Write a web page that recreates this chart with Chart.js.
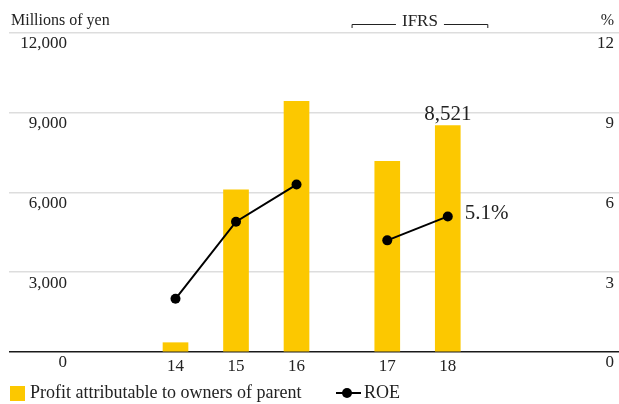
<!DOCTYPE html>
<html lang="en">
<head>
    <meta charset="UTF-8">
    <title>Profit and ROE</title>
    <script src="https://cdn.jsdelivr.net/npm/chart.js"></script>
    <style>
        html, body { margin: 0; padding: 0; background: #fff; }
        .caixa { width: 619px; height: 404px; }
    </style>
</head>
<body>
<div class="caixa">
    <canvas id="myChart" width="619" height="404"></canvas>
</div>
<script>
    // dados
    const years = ['14', '15', '16', '17', '18'];
    const isIfrs = [false, false, false, true, true];
    const profit = [350, 6100, 9430, 7170, 8521];   // millions of yen
    const roe = [2.0, 4.9, 6.3, 4.2, 5.1];          // %
    const leftTicks = [0, 3000, 6000, 9000, 12000];
    const rightTicks = [0, 3, 6, 9, 12];

    const fonte = '"Liberation Serif", "DejaVu Serif", serif';
    const corTexto = '#222';
    const amarelo = '#FCC800';

    // IFRS years sit half a slot further right
    const pos = years.map((y, i) => i + (isIfrs[i] ? 0.5 : 0));

    const extras = {
        id: 'extras',
        afterDraw(chart) {
            const ctx = chart.ctx;
            const y = chart.scales.y, y1 = chart.scales.y1, x = chart.scales.x;
            ctx.save();
            ctx.fillStyle = corTexto;
            ctx.textBaseline = 'middle';

            // eixo esquerdo
            ctx.font = '17px ' + fonte;
            ctx.textAlign = 'right';
            leftTicks.forEach(v => ctx.fillText(v.toLocaleString('en-US'), 67, y.getPixelForValue(v) + 11));
            rightTicks.forEach(v => ctx.fillText(String(v), 614, y1.getPixelForValue(v) + 11));

            // unidades
            ctx.font = '16px ' + fonte;
            ctx.fillText('%', 614, 21);
            ctx.textAlign = 'left';
            ctx.fillText('Millions of yen', 11, 21);

            // IFRS bracket
            const bl = x.getPixelForValue(pos[3] - 0.59);
            const br = x.getPixelForValue(pos[4] + 0.67);
            const mid = (bl + br) / 2;
            ctx.font = '17px ' + fonte;
            ctx.textAlign = 'center';
            ctx.fillText('IFRS', mid, 22);
            ctx.strokeStyle = corTexto;
            ctx.lineWidth = 1;
            ctx.beginPath();
            ctx.moveTo(bl + 0.5, 28); ctx.lineTo(bl + 0.5, 24.5); ctx.lineTo(mid - 24, 24.5);
            ctx.moveTo(mid + 24, 24.5); ctx.lineTo(br - 0.5, 24.5); ctx.lineTo(br - 0.5, 28);
            ctx.stroke();

            // rótulos do último ano
            const last = years.length - 1;
            const bar = chart.getDatasetMeta(0).data[last];
            const pt = chart.getDatasetMeta(1).data[last];
            ctx.font = '21px ' + fonte;
            ctx.textAlign = 'center';
            ctx.fillText(profit[last].toLocaleString('en-US'), bar.x, bar.y - 11);
            ctx.textAlign = 'left';
            ctx.fillText(roe[last].toFixed(1) + '%', pt.x + 17, pt.y - 3);

            // legenda
            ctx.fillStyle = amarelo;
            ctx.fillRect(10, 386, 15, 15);
            ctx.fillStyle = corTexto;
            ctx.font = '18px ' + fonte;
            ctx.fillText('Profit attributable to owners of parent', 30, 393);
            ctx.strokeStyle = '#000';
            ctx.lineWidth = 2;
            ctx.beginPath();
            ctx.moveTo(336, 393); ctx.lineTo(361, 393);
            ctx.stroke();
            ctx.fillStyle = '#000';
            ctx.beginPath();
            ctx.arc(347, 393, 5, 0, Math.PI * 2);
            ctx.fill();
            ctx.fillStyle = corTexto;
            ctx.fillText('ROE', 364, 393);
            ctx.restore();
        }
    };

    const dados = {
        datasets: [{
            type: 'bar',
            label: 'Profit attributable to owners of parent',
            data: profit.map((v, i) => ({ x: pos[i], y: v })),
            backgroundColor: amarelo,
            barThickness: 25,
            yAxisID: 'y',
            order: 1
        }, {
            type: 'line',
            label: 'ROE',
            data: roe.map((v, i) => ({ x: pos[i], y: v })),
            borderColor: '#000',
            borderWidth: 2,
            pointRadius: 5,
            pointBackgroundColor: '#000',
            pointBorderWidth: 0,
            yAxisID: 'y1',
            order: 0,
            segment: {
                // no line across the JGAAP -> IFRS change
                borderColor: c => isIfrs[c.p0DataIndex] !== isIfrs[c.p1DataIndex] ? 'rgba(0,0,0,0)' : '#000'
            }
        }]
    };

    const config = {
        data: dados,
        options: {
            responsive: false,
            animation: false,
            layout: { autoPadding: false, padding: { left: 9, right: 0, top: 33, bottom: 0 } },
            plugins: { legend: { display: false }, tooltip: { enabled: false } },
            scales: {
                x: {
                    type: 'linear',
                    min: -2.752,
                    max: 7.33,
                    offset: false,
                    grid: { display: false, offset: false },
                    border: { display: false },
                    afterBuildTicks: s => { s.ticks = pos.map(v => ({ value: v })); },
                    afterFit: s => { s.height = 52; },
                    ticks: {
                        padding: -4,
                        color: corTexto,
                        font: { family: fonte, size: 17 },
                        callback: v => years[pos.indexOf(v)]
                    }
                },
                y: {
                    position: 'left',
                    min: 0,
                    max: 12000,
                    afterBuildTicks: s => { s.ticks = leftTicks.map(v => ({ value: v })); },
                    afterFit: s => { s.width = 0; },
                    border: { display: false },
                    ticks: { display: false },
                    grid: {
                        drawTicks: false,
                        color: c => c.tick.value === 0 ? '#1a1a1a' : '#dddddd',
                        lineWidth: 1.6
                    }
                },
                y1: {
                    position: 'right',
                    display: false,
                    min: 0,
                    max: 12
                }
            }
        },
        plugins: [extras]
    };

    let myChart = new Chart(document.getElementById('myChart'), config);
</script>
</body>
</html>
